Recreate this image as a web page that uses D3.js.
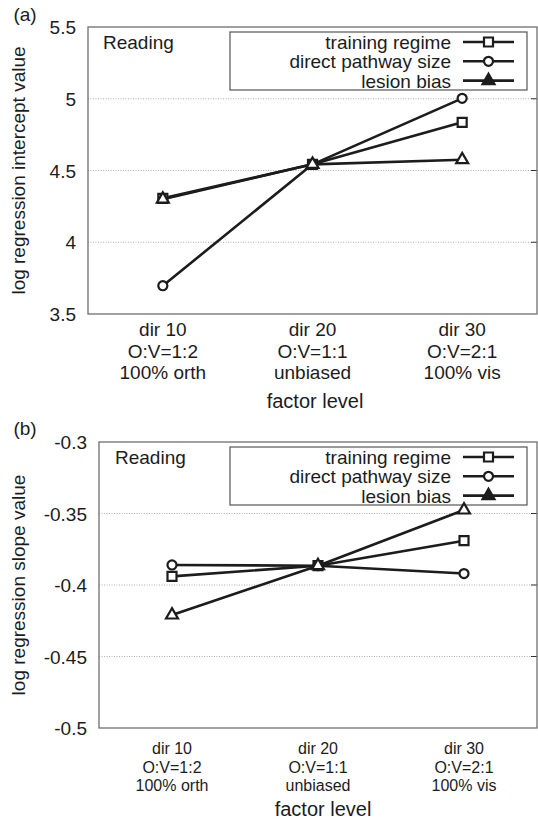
<!DOCTYPE html>
<html>
<head>
<meta charset="utf-8">
<script src="https://cdn.jsdelivr.net/npm/d3@7"></script>
<style>
  body { margin: 0; background: #fff; }
  svg { display: block; font-family: "Liberation Sans", Arial, sans-serif; }
</style>
</head>
<body>
<svg id="chart" width="538" height="819"></svg>
<script>
// factor levels (x categories), one array of text lines per level
const levels = [
    ["dir 10", "O:V=1:2", "100% orth"],
    ["dir 20", "O:V=1:1", "unbiased"],
    ["dir 30", "O:V=2:1", "100% vis"]
];
const seriesNames = ["training regime", "direct pathway size", "lesion bias"];
const seriesMarkers = ["square", "circle", "triangle"];

// panel (a): log regression intercept
const interceptTraining = [4.306, 4.543, 4.836];
const interceptDirect = [3.697, 4.543, 5.003];
const interceptLesion = [4.300, 4.543, 4.575];
const interceptTicks = [3.5, 4, 4.5, 5, 5.5];

// panel (b): log regression slope
const slopeTraining = [-0.394, -0.3865, -0.369];
const slopeDirect = [-0.386, -0.3865, -0.392];
const slopeLesion = [-0.421, -0.3865, -0.3476];
const slopeTicks = [-0.5, -0.45, -0.4, -0.35, -0.3];

const ink = "#1c1c1c";
const svg = d3.select("#chart");

function markerPath(type) {
    if (type === "square") return d3.symbol().type(d3.symbolSquare).size(81)();
    if (type === "circle") return d3.symbol().type(d3.symbolCircle).size(64)();
    return d3.symbol().type(d3.symbolTriangle).size(62)();
}

function drawPanel(opts) {
    const { left, right, top, bottom, ticks, series, letter, yLabel, catFont, catLines } = opts;

    const x = d3.scaleBand().domain(levels.map((d, i) => i)).range([left, right]).padding(0);
    const cx = i => x(i) + x.bandwidth() / 2;
    const y = d3.scaleLinear().domain([ticks[0], ticks[ticks.length - 1]]).range([bottom, top]);

    const g = svg.append("g");

    // dotted gridlines at interior ticks
    g.selectAll(".grid")
        .data(ticks.slice(1, -1))
        .enter()
        .append("line")
        .attr("x1", left).attr("x2", right)
        .attr("y1", d => y(d)).attr("y2", d => y(d))
        .attr("stroke", "#9a9a9a")
        .attr("stroke-width", 0.8)
        .attr("stroke-dasharray", "1,1.5");

    // right-side inward ticks
    g.selectAll(".rtick")
        .data(ticks.slice(1, -1))
        .enter()
        .append("line")
        .attr("x1", right - 6).attr("x2", right)
        .attr("y1", d => y(d)).attr("y2", d => y(d))
        .attr("stroke", "#333")
        .attr("stroke-width", 1);

    // y tick labels
    g.selectAll(".ylab")
        .data(ticks)
        .enter()
        .append("text")
        .attr("x", left - 12)
        .attr("y", d => y(d) + 7)
        .attr("text-anchor", "end")
        .style("font-size", "19px")
        .style("fill", ink)
        .text(d => String(d));

    // plot frame
    g.append("rect")
        .attr("x", left).attr("y", top)
        .attr("width", right - left).attr("height", bottom - top)
        .attr("fill", "none")
        .attr("stroke", "#6f6f6f")
        .attr("stroke-width", 1.3);

    // category labels
    levels.forEach((lines, i) => {
        lines.forEach((t, k) => {
            g.append("text")
                .attr("x", cx(i))
                .attr("y", catLines[k])
                .attr("text-anchor", "middle")
                .style("font-size", catFont + "px")
                .style("fill", ink)
                .text(t);
        });
    });

    g.append("text")
        .attr("x", opts.factorX)
        .attr("y", opts.factorY)
        .attr("text-anchor", "middle")
        .style("font-size", "20px")
        .style("fill", ink)
        .text("factor level");

    // y axis title
    g.append("text")
        .attr("transform", `translate(25,${(top + bottom) / 2}) rotate(-90)`)
        .attr("text-anchor", "middle")
        .style("font-size", "19px")
        .style("fill", ink)
        .text(yLabel);

    // panel letter
    g.append("text")
        .attr("x", 25).attr("y", opts.letterY)
        .attr("text-anchor", "middle")
        .style("font-size", "19px")
        .style("fill", ink)
        .text(letter);

    g.append("text")
        .attr("x", opts.readingX).attr("y", top + 22)
        .style("font-size", "19px")
        .style("fill", ink)
        .text("Reading");

    // legend (drawn before the data so markers sit on top)
    const lg = g.append("g");
    lg.append("rect")
        .attr("x", 230).attr("y", top + 5)
        .attr("width", 297).attr("height", 58)
        .attr("fill", "#fff")
        .attr("stroke", "#555")
        .attr("stroke-width", 1.2);
    seriesNames.forEach((name, s) => {
        const ry = top + 15 + s * 19.3;
        lg.append("text")
            .attr("x", 451).attr("y", ry + 7)
            .attr("text-anchor", "end")
            .style("font-size", "19px")
            .style("fill", ink)
            .text(name);
        lg.append("line")
            .attr("x1", 463).attr("x2", 514)
            .attr("y1", ry).attr("y2", ry)
            .attr("stroke", ink)
            .attr("stroke-width", 2.6);
        lg.append("path")
            .attr("d", markerPath(seriesMarkers[s]))
            .attr("transform", `translate(488.5,${ry})`)
            .attr("fill", seriesMarkers[s] === "triangle" ? ink : "#fff")
            .attr("stroke", ink)
            .attr("stroke-width", 2.2);
    });

    // series lines + markers
    const line = d3.line().x((d, i) => cx(i)).y(d => y(d));
    series.forEach((vals, s) => {
        g.append("path")
            .attr("d", line(vals))
            .attr("fill", "none")
            .attr("stroke", ink)
            .attr("stroke-width", 2.6)
            .attr("stroke-linejoin", "round");
        g.selectAll(null)
            .data(vals)
            .enter()
            .append("path")
            .attr("d", markerPath(seriesMarkers[s]))
            .attr("transform", (d, i) => `translate(${cx(i)},${y(d)})`)
            .attr("fill", "#fff")
            .attr("stroke", ink)
            .attr("stroke-width", 2.2);
    });
}

drawPanel({
    left: 88, right: 537, top: 27, bottom: 314,
    ticks: interceptTicks,
    series: [interceptTraining, interceptDirect, interceptLesion],
    letter: "(a)", letterY: 21,
    yLabel: "log regression intercept value",
    catFont: 19, catLines: [336, 357.5, 378.5],
    factorX: 315, factorY: 408,
    readingX: 103
});

drawPanel({
    left: 99, right: 537, top: 442, bottom: 728,
    ticks: slopeTicks,
    series: [slopeTraining, slopeDirect, slopeLesion],
    letter: "(b)", letterY: 435,
    yLabel: "log regression slope value",
    catFont: 16, catLines: [754, 772.5, 791],
    factorX: 323, factorY: 816,
    readingX: 115
});
</script>
</body>
</html>
